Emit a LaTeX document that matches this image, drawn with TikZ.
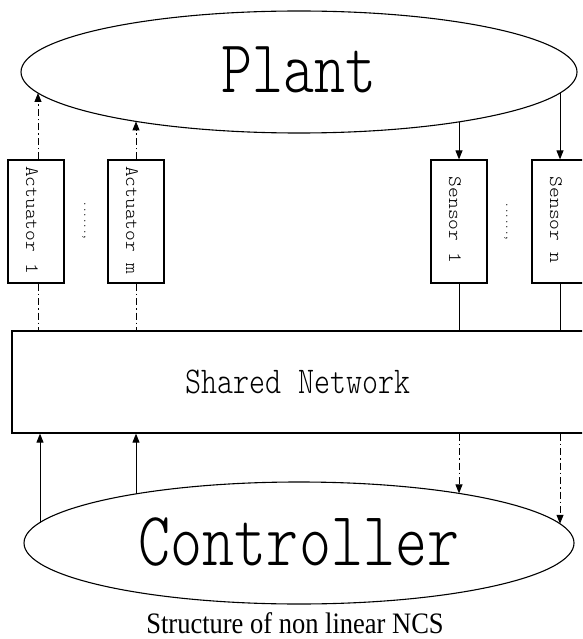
\documentclass[tikz,border=0pt]{standalone}
\usepackage{fontspec}
\setmainfont{Liberation Serif}
\usepackage{graphicx}
\usetikzlibrary{shapes.geometric,arrows.meta}
\newcommand{\lmono}{\ttfamily\fontseries{l}\selectfont}
\begin{document}
\begin{tikzpicture}[x=1pt,y=-1pt,
  line width=1pt,
  ell/.style={ellipse,draw,line width=1.1pt,inner sep=0pt},
  blk/.style={rectangle,draw,line width=1.2pt,inner sep=0pt,minimum width=56pt,minimum height=123pt},
  vlab/.style={rotate=-90,inner sep=0pt,font=\lmono},
  sig/.style={-{Triangle[length=9pt,width=7pt]}},
  dd/.style={dash pattern=on 7pt off 3pt on 1.5pt off 3pt},
]
\useasboundingbox (0,0) rectangle (582,639);
\clip (0,0) rectangle (582,639);

% main blocks
\node[ell,minimum width=556pt,minimum height=122pt] (plant) at (299,72)
  {\raisebox{4pt}{\scalebox{1}[1.27]{\lmono\fontsize{59}{59}\selectfont Plant}}};
\node[ell,minimum width=550pt,minimum height=122pt] (ctrl) at (299,543)
  {\raisebox{3pt}{\scalebox{1}[1.26]{\lmono\fontsize{61}{61}\selectfont Controller}}};
\node[draw,line width=1.2pt,minimum width=572pt,minimum height=102pt,inner sep=0pt] (net) at (298,382)
  {\scalebox{1}[1.24]{\lmono\fontsize{30.5}{30.5}\selectfont Shared Network}};

% actuators and sensors
\node[blk] (act1) at (36,221.5) {};
\node[blk] (actm) at (136,221.5) {};
\node[blk] (sen1) at (459,221.5) {};
\node[blk] (senn) at (560,221.5) {};

\node[vlab] (la1) at (32,220) {\scalebox{1.08}[1]{\fontsize{19}{19}\selectfont Actuator 1}};
\node[vlab] (lam) at (132,220) {\scalebox{1.08}[1]{\fontsize{19}{19}\selectfont Actuator m}};
\node[vlab] (ls1) at (455,220) {\scalebox{1.08}[1]{\fontsize{19}{19}\selectfont Sensor 1}};
\node[vlab] (lsn) at (556,220) {\scalebox{1.08}[1]{\fontsize{19}{19}\selectfont Sensor n}};
\node[vlab] (d1) at (84,221) {\scalebox{0.8}[1]{\fontsize{13}{13}\selectfont ......,}};
\node[vlab] (d2) at (506,222) {\scalebox{0.8}[1]{\fontsize{13}{13}\selectfont ......,}};

% points on the ellipses
\coordinate (pa1) at (38,93);
\coordinate (pam) at (136,121.4);
\coordinate (ps1) at (459,121.9);
\coordinate (psn) at (560,93);
\coordinate (c1) at (40,522.5);
\coordinate (cm) at (136,493.9);
\coordinate (cs1) at (459,493.4);
\coordinate (csn) at (560,523.8);

% plant side
\draw[dd,sig] ([xshift=2pt]act1.north) -- (pa1);
\draw[dd,sig] (actm.north) -- (pam);
\draw[sig] (ps1) -- (sen1.north);
\draw[sig] (psn) -- (senn.north);

% to / from network
\draw[dd] ([xshift=2pt]act1.south) -- ([xshift=2pt]act1.south |- net.north);
\draw[dd] (actm.south) -- (actm.south |- net.north);
\draw (sen1.south) -- (sen1.south |- net.north);
\draw (senn.south) -- (senn.south |- net.north);

% controller side
\draw[sig] (c1) -- (c1 |- net.south);
\draw[sig] (cm) -- (cm |- net.south);
\draw[dd,sig] (sen1.south |- net.south) -- (cs1);
\draw[dd,sig] (senn.south |- net.south) -- (csn);

% caption
\node[inner sep=0pt] (cap) at (295,623)
  {\scalebox{1}[1.12]{\fontsize{26.5}{26.5}\selectfont Structure of non linear NCS}};
\end{tikzpicture}
\end{document}
